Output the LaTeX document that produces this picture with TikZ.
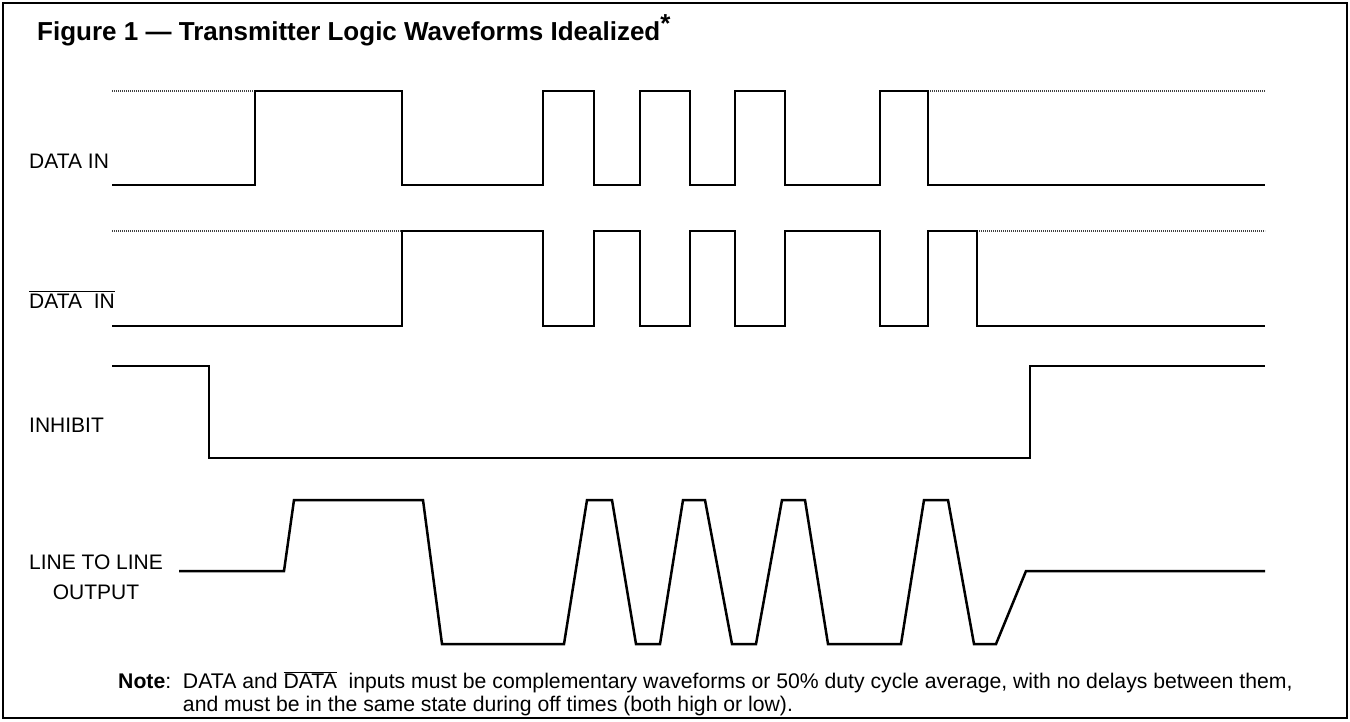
\documentclass[tikz,border=0pt]{standalone}
\usepackage{fontspec}
\setmainfont{Liberation Sans}
\newcommand\myovl[1]{$\overline{\mbox{#1}}$}
\begin{document}
\begin{tikzpicture}[x=1pt,y=-1pt,
  wave/.style={line width=2.5pt, line join=miter},
  idle/.style={line width=1.6pt, dash pattern=on 1.2pt off 0.8pt, black!75},
  lbl/.style={anchor=west, inner sep=0pt, font=\fontsize{21}{24}\selectfont},
  frame/.style={line width=2pt},
]
\useasboundingbox (0,0) rectangle (1350,721);
\draw[frame] (3,3) rectangle (1347,718);

% title
\node[anchor=base west, inner sep=0pt, font=\bfseries\fontsize{26}{29}\selectfont] (title) at (37,40)
  {Figure 1 — Transmitter Logic Waveforms Idealized\raisebox{.3em}{*}};

% labels
\node[lbl] (lblA) at (29,161) {DATA IN};
\node[lbl] (lblB) at (29,301) {DATA\ \ IN};
\draw[line width=0.9pt] ([yshift=2.5pt]lblB.north west) -- ([yshift=2.5pt]lblB.north east);
\node[lbl] (lblI) at (29,425) {INHIBIT};
\node[anchor=center, inner sep=0pt, align=center, font=\fontsize{21}{30}\selectfont] (lblO) at (96,577) {LINE TO LINE\\OUTPUT};

% DATA IN
\coordinate (a0) at (112,185);
\draw[idle] (112,91) -- (255,91);
\draw[wave] (a0) -- (255,185) -- (255,91) -- (402,91) -- (402,185) -- (543,185) -- (543,91) -- (594,91) -- (594,185)
  -- (640,185) -- (640,91) -- (690,91) -- (690,185) -- (735,185) -- (735,91) -- (785,91) -- (785,185)
  -- (880,185) -- (880,91) -- (928,91) -- (928,185) -- (1265,185);
\draw[idle] (930,91) -- (1265,91);

% DATA IN bar
\coordinate (b0) at (112,326);
\draw[idle] (112,231) -- (402,231);
\draw[wave] (b0) -- (402,326) -- (402,231) -- (543,231) -- (543,326) -- (594,326) -- (594,231) -- (640,231) -- (640,326)
  -- (690,326) -- (690,231) -- (735,231) -- (735,326) -- (785,326) -- (785,231) -- (880,231) -- (880,326)
  -- (928,326) -- (928,231) -- (977,231) -- (977,326) -- (1265,326);
\draw[idle] (979,231) -- (1265,231);

% INHIBIT
\coordinate (i0) at (112,366);
\draw[wave] (i0) -- (209,366) -- (209,458) -- (1030,458) -- (1030,366) -- (1265,366);

% LINE TO LINE OUTPUT
\coordinate (o0) at (179,571);
\draw[wave] (o0) -- (284,571) -- (294,500) -- (423,500) -- (442,644) -- (564,644) -- (587,500) -- (612,500) -- (636,644)
  -- (660,644) -- (683,500) -- (705,500) -- (732,644) -- (756,644) -- (782,500) -- (805,500) -- (828,644)
  -- (901,644) -- (924,500) -- (948,500) -- (974,644) -- (996,644) -- (1026,571) -- (1265,571);

% note
\node[anchor=west, inner sep=0pt, font=\fontsize{21.2}{23}\selectfont] (note) at (118,695)
  {\begin{tabular}{@{}l@{\ \ }l@{}}
   \textbf{Note}: & DATA and \myovl{DATA}\ \ inputs must be complementary waveforms or 50\% duty cycle average, with no delays between them,\\
   & and must be in the same state during off times (both high or low).
   \end{tabular}};
\end{tikzpicture}
\end{document}
